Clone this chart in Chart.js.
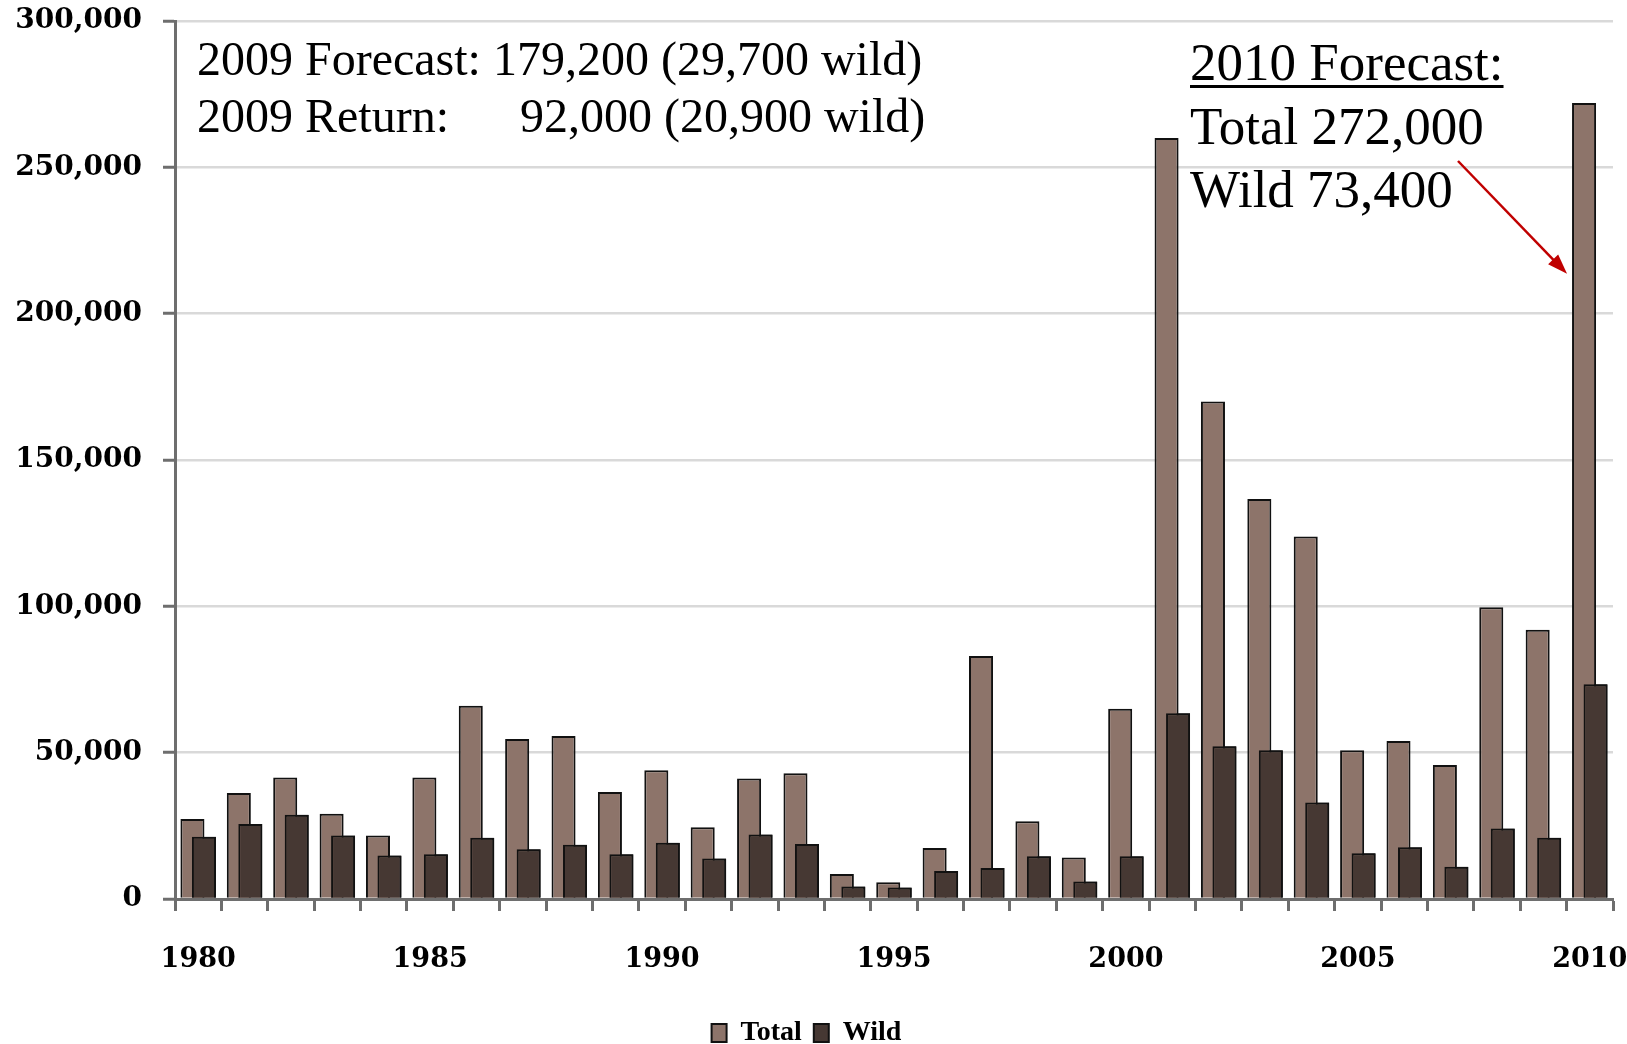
<!DOCTYPE html>
<html>
<head>
<meta charset="utf-8">
<script src="https://cdn.jsdelivr.net/npm/chart.js@4.4.1/dist/chart.umd.min.js"></script>
<style>
  html, body { margin: 0; padding: 0; background: #fff; }
</style>
</head>
<body>
<canvas id="chart" width="1627" height="1044"></canvas>
<script>
// run sizes by return year
const years = ['1980', '1981', '1982', '1983', '1984', '1985', '1986', '1987', '1988', '1989',
  '1990', '1991', '1992', '1993', '1994', '1995', '1996', '1997', '1998', '1999',
  '2000', '2001', '2002', '2003', '2004', '2005', '2006', '2007', '2008', '2009', '2010'];
const totalRun = [27300, 36200, 41500, 29100, 21700, 41500, 66000, 54700, 55700, 36600,
  44000, 24500, 41200, 43000, 8500, 5700, 17400, 83000, 26600, 14200,
  65000, 260000, 170000, 136700, 123900, 50800, 54000, 45800, 99700, 92000, 272000];
const wildRun = [21300, 25600, 28800, 21700, 14900, 15300, 20900, 17000, 18500, 15300,
  19200, 13800, 22000, 18800, 4300, 3900, 9600, 10600, 14600, 6000,
  14600, 63500, 52200, 50800, 33000, 15600, 17700, 11000, 24100, 20900, 73400];
const yTickValues = [0, 50000, 100000, 150000, 200000, 250000, 300000];
const labelledYears = ['1980', '1985', '1990', '1995', '2000', '2005', '2010'];

const note2009 = ['2009 Forecast: 179,200 (29,700 wild)', '2009 Return:', '92,000 (20,900 wild)'];
const note2010 = ['2010 Forecast:', 'Total 272,000', 'Wild 73,400'];

const axisGrey = '#6e6e6e';

// the wild bar overlaps the total bar, so paint it again on top
const wildOnTop = {
  id: 'wildOnTop',
  afterDatasetsDraw(chart) {
    chart.ctx.save();
    chart.getDatasetMeta(1).controller.draw();
    chart.ctx.restore();
  }
};

const notes = {
  id: 'notes',
  afterDraw(chart) {
    const ctx = chart.ctx;
    ctx.save();
    ctx.fillStyle = '#000';
    ctx.textBaseline = 'alphabetic';

    ctx.font = '48px "Liberation Serif"';
    ctx.textAlign = 'left';
    ctx.fillText(note2009[0], 197, 75);
    const right = 197 + ctx.measureText(note2009[0]).width;
    ctx.fillText(note2009[1], 197, 132);
    ctx.textAlign = 'right';
    ctx.fillText(note2009[2], right + 3, 132);

    ctx.font = '53px "Liberation Serif"';
    ctx.textAlign = 'left';
    ctx.fillText(note2010[0], 1190, 80);
    const w = ctx.measureText(note2010[0]).width;
    ctx.fillRect(1190, 85, w, 3);
    ctx.fillText(note2010[1], 1190, 144);
    ctx.fillText(note2010[2], 1190, 207);

    // arrow to the 2010 bar
    const bar = chart.getDatasetMeta(0).data[years.length - 1];
    const x0 = 1458, y0 = 161;
    const x1 = bar.x - bar.width / 2 - 5;
    const y1 = bar.y + (bar.base - bar.y) * 0.215;
    const a = Math.atan2(y1 - y0, x1 - x0);
    ctx.strokeStyle = '#c00000';
    ctx.fillStyle = '#c00000';
    ctx.lineWidth = 2.5;
    ctx.beginPath();
    ctx.moveTo(x0, y0);
    ctx.lineTo(x1 - 14 * Math.cos(a), y1 - 14 * Math.sin(a));
    ctx.stroke();
    ctx.beginPath();
    ctx.moveTo(x1, y1);
    ctx.lineTo(x1 - 20 * Math.cos(a) + 7 * Math.sin(a), y1 - 20 * Math.sin(a) - 7 * Math.cos(a));
    ctx.lineTo(x1 - 20 * Math.cos(a) - 7 * Math.sin(a), y1 - 20 * Math.sin(a) + 7 * Math.cos(a));
    ctx.closePath();
    ctx.fill();
    ctx.restore();
  }
};

new Chart(document.getElementById('chart'), {
  type: 'bar',
  data: {
    labels: years,
    datasets: [
      {
        label: 'Total',
        data: totalRun,
        backgroundColor: '#8d746a',
        borderColor: '#111111',
        borderWidth: 2,
        categoryPercentage: 0.496,
        barPercentage: 2.09
      },
      {
        label: 'Wild',
        data: wildRun,
        backgroundColor: '#463833',
        borderColor: '#111111',
        borderWidth: 2,
        categoryPercentage: 0.496,
        barPercentage: 2.09
      }
    ]
  },
  options: {
    responsive: false,
    devicePixelRatio: 1,
    animation: false,
    layout: { padding: { top: 21, right: 14, left: 0, bottom: -13 } },
    plugins: {
      tooltip: { enabled: false },
      legend: {
        position: 'bottom',
        labels: {
          boxWidth: 15,
          boxHeight: 18,
          padding: 12,
          color: '#000',
          font: { family: '"Liberation Serif"', size: 28, weight: 'bold' }
        }
      }
    },
    scales: {
      x: {
        afterFit: s => {
          s.height = 108;
          s.paddingLeft = 0;
          s.paddingRight = 0;
        },
        grid: {
          offset: true,
          drawOnChartArea: false,
          tickLength: 12,
          tickColor: axisGrey,
          tickWidth: 3
        },
        border: { color: axisGrey, width: 3 },
        ticks: {
          autoSkip: false,
          maxRotation: 0,
          padding: 33,
          color: '#000',
          font: { family: '"DejaVu Serif"', size: 27, weight: 'bold' },
          callback: (v, i) => (labelledYears.includes(years[i]) ? years[i] : '')
        }
      },
      y: {
        min: 0,
        max: 300000,
        afterFit: s => {
          s.width = 175;
          s.paddingTop = 0;
          s.paddingBottom = 0;
        },
        afterBuildTicks: s => { s.ticks = yTickValues.map(v => ({ value: v })); },
        grid: {
          color: '#d9d9d9',
          lineWidth: 2.5,
          tickLength: 12,
          tickColor: axisGrey,
          tickWidth: 3
        },
        border: { color: axisGrey, width: 3 },
        ticks: {
          padding: 21,
          color: '#000',
          font: { family: '"DejaVu Serif"', size: 28, weight: 'bold' },
          callback: v => v.toLocaleString('en-US')
        }
      }
    }
  },
  plugins: [wildOnTop, notes]
});
</script>
</body>
</html>
